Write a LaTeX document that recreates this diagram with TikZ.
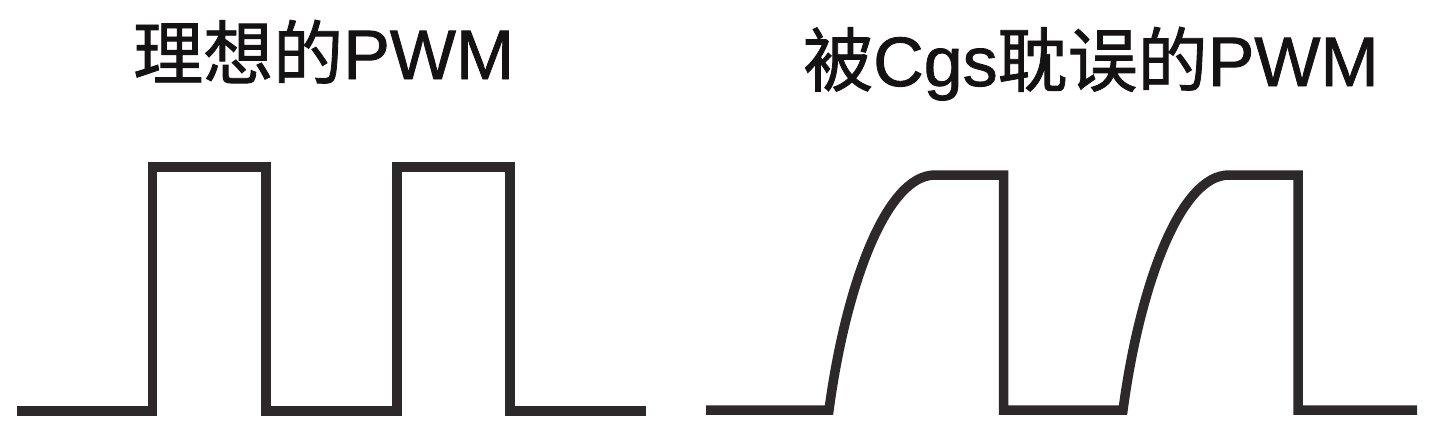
\documentclass[tikz,border=0pt]{standalone}
\usepackage{fontspec}
\setmainfont[FakeBold=1.2]{Liberation Sans}
\newfontfamily\cjk[FakeBold=1.2]{Noto Sans CJK SC}
\definecolor{wave}{RGB}{45,40,41}
\definecolor{ink}{RGB}{20,18,18}
\begin{document}
\begin{tikzpicture}[x=1pt,y=-1pt,
  title/.style={anchor=base west,inner sep=0pt,text=ink,font=\fontsize{70pt}{80pt}\selectfont},
  wavepath/.style={draw=wave,line width=9.5pt,line join=miter,line cap=butt}]
\useasboundingbox (0,0) rectangle (1445,436);
\node[title] (t1) at (133,79) {{\cjk 理想的}PWM};
\node[title] (t2) at (803,86) {{\cjk 被}Cgs{\cjk 耽误的}PWM};
% ideal PWM
\draw[wavepath] (17,411) -- (152.5,411) -- (152.5,167) -- (266,167) -- (266,411)
  -- (397,411) -- (397,167) -- (510,167) -- (510,411) -- (646,411);
% delayed PWM
\draw[wavepath] (706,410) -- (829,410)
  .. controls (845,290) and (885,175) .. (935,175)
  -- (1003.5,175) -- (1003.5,410) -- (1123,410)
  .. controls (1139,290) and (1179,175) .. (1229,175)
  -- (1298,175) -- (1298,410) -- (1417,410);
\end{tikzpicture}
\end{document}
